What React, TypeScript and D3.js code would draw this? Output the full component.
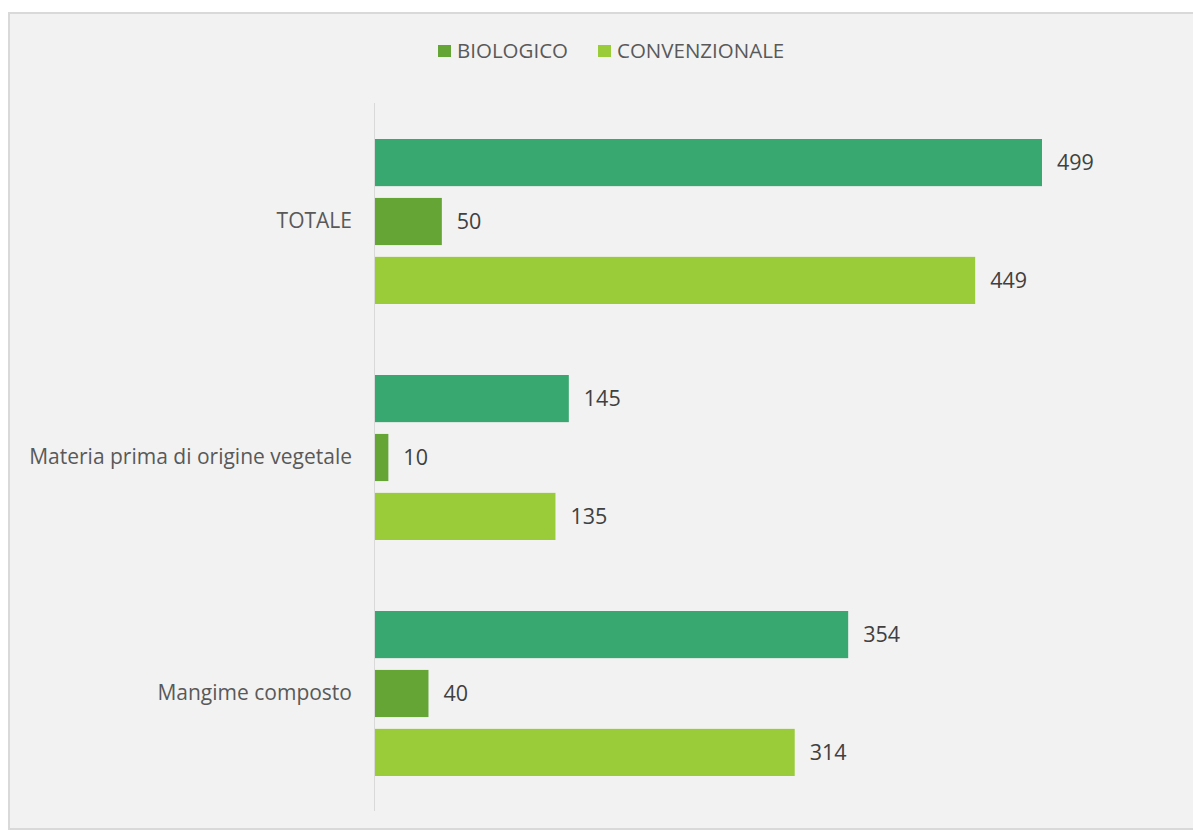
import React from 'react';
import * as d3 from 'd3';

const categories = ['TOTALE', 'Materia prima di origine vegetale', 'Mangime composto'];
const seriesNames = ['TOTALE', 'BIOLOGICO', 'CONVENZIONALE'];
const totaleValues = [499, 145, 354];
const biologicoValues = [50, 10, 40];
const convenzionaleValues = [449, 135, 314];
const legendNames = ['BIOLOGICO', 'CONVENZIONALE'];

const colors: Record<string, string> = {
  TOTALE: '#38a870',
  BIOLOGICO: '#64a536',
  CONVENZIONALE: '#9acb38',
};

const W = 1193;
const H = 830;
const FONT = '"Open Sans", sans-serif';

export default function App() {
  const values = [totaleValues, biologicoValues, convenzionaleValues];

  const x = d3.scaleLinear().domain([0, 499]).range([375, 1042]);
  const y0 = d3.scaleBand<string>().domain(categories).range([103, 811]).paddingInner(0).paddingOuter(0);
  const y1 = d3.scaleBand<string>()
    .domain(seriesNames)
    .range([36, y0.bandwidth() - 35])
    .paddingInner(0.2);

  return (
    <svg width={W} height={H} style={{ position: 'absolute', left: 0, top: 0 }} fontFamily={FONT}>
      <rect x={9} y={13} width={W - 8} height={H - 14} fill="#f2f2f2" stroke="#d9d9d9" strokeWidth={2} />

      {/* legend */}
      <g>
        <rect x={438} y={45} width={13} height={12} fill={colors.BIOLOGICO} />
        <text x={457} y={51} dy="0.35em" fontSize={20.5} fill="#595959">{legendNames[0]}</text>
        <rect x={598} y={45} width={13} height={12} fill={colors.CONVENZIONALE} />
        <text x={617} y={51} dy="0.35em" fontSize={20.5} fill="#595959">{legendNames[1]}</text>
      </g>

      {/* axis line */}
      <line x1={x(0) - 0.5} x2={x(0) - 0.5} y1={y0.range()[0]} y2={y0.range()[1]} stroke="#d9d9d9" strokeWidth={1} />

      {categories.map((c, ci) => {
        const gy = y0(c)!;
        return (
          <g key={c}>
            <text
              x={352}
              y={gy + y0.bandwidth() / 2}
              dy="0.35em"
              textAnchor="end"
              fontSize={21}
              fill="#595959"
            >
              {c}
            </text>
            {seriesNames.map((s, si) => {
              const v = values[si][ci];
              const by = gy + y1(s)!;
              return (
                <g key={s}>
                  <rect x={x(0)} y={by} width={x(v) - x(0)} height={y1.bandwidth()} fill={colors[s]} />
                  <text
                    x={x(v) + 15}
                    y={by + y1.bandwidth() / 2}
                    dy="0.35em"
                    fontSize={21.5}
                    fill="#404040"
                  >
                    {v}
                  </text>
                </g>
              );
            })}
          </g>
        );
      })}
    </svg>
  );
}
